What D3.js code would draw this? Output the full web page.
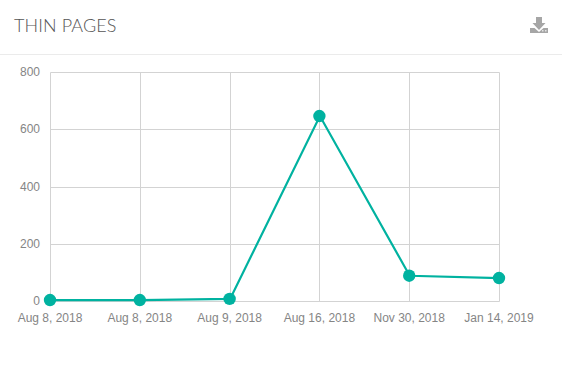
<!DOCTYPE html>
<html>
<head>
<meta charset="utf-8">
<script src="https://cdn.jsdelivr.net/npm/d3@7"></script>
<style>
  html, body { margin: 0; padding: 0; background: #fff; }
  svg { display: block; }
</style>
</head>
<body>
<svg id="chart" width="562" height="367"></svg>
<script>
const dates = ["Aug 8, 2018", "Aug 8, 2018", "Aug 9, 2018", "Aug 16, 2018", "Nov 30, 2018", "Jan 14, 2019"];
const thinPages = [5, 5, 9, 648, 90, 82];
const yTicks = [0, 200, 400, 600, 800];

const svg = d3.select("#chart");
const plotLeft = 50.5, plotRight = 499.5, plotTop = 72.5, plotBottom = 301.5;
const teal = "#00b2a0";

// Header
svg.append("text")
  .attr("x", 14)
  .attr("y", 32)
  .style("font-family", "Lato")
  .style("font-weight", 300)
  .style("font-size", "18px")
  .style("letter-spacing", "0.1px")
  .attr("fill", "#555555")
  .text("THIN PAGES");

svg.append("line")
  .attr("x1", 0).attr("x2", 562)
  .attr("y1", 54.5).attr("y2", 54.5)
  .attr("stroke", "#ebebeb");

// Download icon
const icon = svg.append("g").attr("fill", "#a6a6a6");
icon.append("path").attr("d", "M536 17h6v6h3.5l-6.5 7-6.5-7h3.500z");
icon.append("path").attr("d", "M530 28h4.500l4.500 4 4.500-4h4.500v5h-18z");
icon.append("rect").attr("x", 542).attr("y", 30).attr("width", 1.5).attr("height", 1.5).attr("fill", "#e4e4e4");
icon.append("rect").attr("x", 545).attr("y", 30).attr("width", 1.5).attr("height", 1.5).attr("fill", "#e4e4e4");

const x = d3.scalePoint().domain(d3.range(dates.length)).range([plotLeft, plotRight]);
const y = d3.scaleLinear().domain([0, 800]).range([plotBottom, plotTop]);

// Grid
svg.append("g")
  .selectAll("line")
  .data(yTicks)
  .join("line")
  .attr("x1", plotLeft).attr("x2", plotRight)
  .attr("y1", d => Math.round(y(d) - 0.5) + 0.5).attr("y2", d => Math.round(y(d) - 0.5) + 0.5)
  .attr("stroke", "#d3d3d3");

svg.append("g")
  .selectAll("line")
  .data(d3.range(dates.length))
  .join("line")
  .attr("x1", d => Math.round(x(d) - 0.5) + 0.5).attr("x2", d => Math.round(x(d) - 0.5) + 0.5)
  .attr("y1", plotTop).attr("y2", plotBottom)
  .attr("stroke", "#d3d3d3");

// Axis labels
svg.append("g")
  .selectAll("text")
  .data(yTicks)
  .join("text")
  .attr("x", 40)
  .attr("y", d => y(d) + 3.5)
  .attr("text-anchor", "end")
  .style("font-family", "Liberation Sans")
  .style("font-size", "12px")
  .attr("fill", "#858585")
  .text(d => d);

svg.append("g")
  .selectAll("text")
  .data(dates)
  .join("text")
  .attr("x", (d, i) => x(i) - 0.5)
  .attr("y", 322)
  .attr("text-anchor", "middle")
  .style("font-family", "Liberation Sans")
  .style("font-size", "12px")
  .attr("fill", "#858585")
  .text(d => d);

// Series
const line = d3.line().x((d, i) => x(i)).y(d => y(d));

svg.append("path")
  .datum(thinPages)
  .attr("d", line)
  .attr("fill", "none")
  .attr("stroke", teal)
  .attr("stroke-width", 2.2);

svg.append("g")
  .selectAll("circle")
  .data(thinPages)
  .join("circle")
  .attr("cx", (d, i) => x(i) - 0.5)
  .attr("cy", d => y(d))
  .attr("r", 6.2)
  .attr("fill", teal);
</script>
</body>
</html>
